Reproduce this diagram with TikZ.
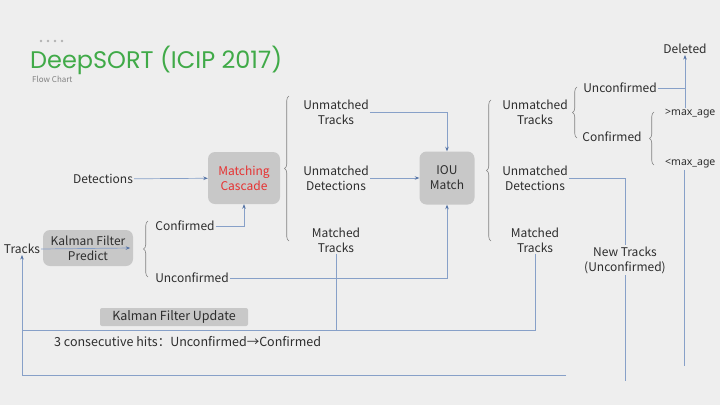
\documentclass[tikz,border=0pt]{standalone}
\usepackage{fontspec}
\setmainfont{Noto Sans CJK SC}
\newfontfamily\titlefont{Poppins}
\newfontfamily\ageFont{Noto Sans}
\usepackage{tikz}
\usetikzlibrary{arrows.meta,positioning,calc,decorations.pathreplacing}
\definecolor{slideBg}{RGB}{238,238,238}
\definecolor{titleGreen}{RGB}{64,170,72}
\definecolor{boxGray}{RGB}{200,200,200}
\definecolor{lineBlue}{RGB}{135,160,200}
\definecolor{tipBlue}{RGB}{85,115,165}
\definecolor{textDark}{RGB}{45,45,45}
\definecolor{cascadeRed}{RGB}{230,50,50}
\tikzset{
  lbl/.style={font=\fontsize{12}{15}\selectfont,text=textDark,align=center,inner sep=1pt},
  stage/.style={lbl,rounded corners=7pt,fill=boxGray,inner sep=0pt},
  link/.style={draw=lineBlue,line width=0.7pt,-{Stealth[length=4.5pt,width=3.5pt,color=tipBlue]}},
  wire/.style={draw=lineBlue,line width=0.7pt},
  brc/.style={draw=gray,line width=0.6pt,decorate,decoration={brace,amplitude=4.5pt}}
}
\begin{document}
\begin{tikzpicture}[x=1pt,y=-1pt]
        \fill[slideBg] (0,0) rectangle (720,405);
        \useasboundingbox (0,0) rectangle (720,405);
        % Title
        \foreach \i in {0,...,3}
          \fill[gray!60] (41+7*\i,41) circle (1.3);
        \node[anchor=west,inner sep=0pt,text=titleGreen,font=\titlefont\fontsize{24}{26}\selectfont] (title) at (30,60) {DeepSORT (ICIP 2017)};
        \node[anchor=west,inner sep=0pt,text=gray,font=\fontsize{8}{9}\selectfont] (sub) at (32,79) {Flow Chart};
        % Input side
        \node[lbl] (det) at (103,179) {Detections};
        \node[stage,text=cascadeRed,minimum width=72,minimum height=52] (mc) at (244,178) {Matching\\Cascade};
        \node[lbl] (trk) at (22,249) {Tracks};
        \node[stage,minimum width=90,minimum height=36] (kfp) at (88,248) {Kalman Filter\\Predict};
        \draw[brc] (148,277) -- (148,221);
        \node[lbl] (conf) at (185,226) {Confirmed};
        \node[lbl] (unconf) at (192,278) {Unconfirmed};
        % Cascade outputs
        \draw[brc] (289,241) -- (289,96);
        \node[lbl] (ut) at (336,112) {Unmatched\\Tracks};
        \node[lbl] (ud) at (336,178) {Unmatched\\Detections};
        \node[lbl] (mt) at (336,240) {Matched\\Tracks};
        \node[stage,minimum width=55,minimum height=53] (iou) at (447,178) {IOU\\Match};
        % IOU outputs
        \draw[brc] (491,241) -- (491,100);
        \node[lbl] (ut2) at (535,112) {Unmatched\\Tracks};
        \node[lbl] (ud2) at (535,178) {Unmatched\\Detections};
        \node[lbl] (mt2) at (535,240) {Matched\\Tracks};
        \draw[brc] (577,138) -- (577,87);
        \node[lbl] (uc2) at (620,88) {Unconfirmed};
        \node[lbl] (cf2) at (612,137) {Confirmed};
        \draw[brc] (654,165) -- (654,112);
        \node[lbl,anchor=west,font=\ageFont\fontsize{10.5}{12}\selectfont] (gt) at (664,114) {>max\_age};
        \node[lbl,anchor=west,font=\ageFont\fontsize{10.5}{12}\selectfont] (lt) at (664,164) {<max\_age};
        \node[lbl] (del) at (685,49) {Deleted};
        % Update row
        \node[stage,rounded corners=2pt,minimum width=148,minimum height=18,font=\fontsize{12.5}{13}\selectfont] (kfu) at (174,317) {Kalman Filter Update};
        \node[lbl,anchor=west,font=\fontsize{12.5}{13}\selectfont] (hits) at (53,342) {3 consecutive hits：Unconfirmed→Confirmed};
        \coordinate (fb) at (22,330);
        \coordinate (bl) at (22,375);
        \coordinate (br) at (566,375);
        \coordinate (ntend) at (625,381);
        \coordinate (ltend) at (684,366);
        % Connectors
        \draw[link] (det) -- (mc);
        \draw[link] (trk.east) -- ([xshift=-3pt]kfp.east);
        \draw[link] (conf.east) -| (mc.south);
        \draw[link] (unconf.east) -| (iou.south);
        \draw[link] (ut.east) -| (iou.north);
        \draw[link] (ud.east) -- (iou.west);
        \draw[wire] (mt.south) -- (mt.south |- fb);
        \draw[link] (mt2.south) |- (fb) -- (trk.south);
        \draw[wire] (br) -- (bl) -- (fb);
        \draw[wire] (ud2.east) -| (ntend);
        \draw[wire] (ltend |- lt.south) -- (ltend);
        \draw[link] (del |- gt.north) -- (del.south);
        \draw[wire] (uc2.east) -- (uc2.east -| del);
        \node[lbl,fill=slideBg,inner sep=2pt] (newtr) at (625,260) {New Tracks\\(Unconfirmed)};
\end{tikzpicture}
\end{document}
